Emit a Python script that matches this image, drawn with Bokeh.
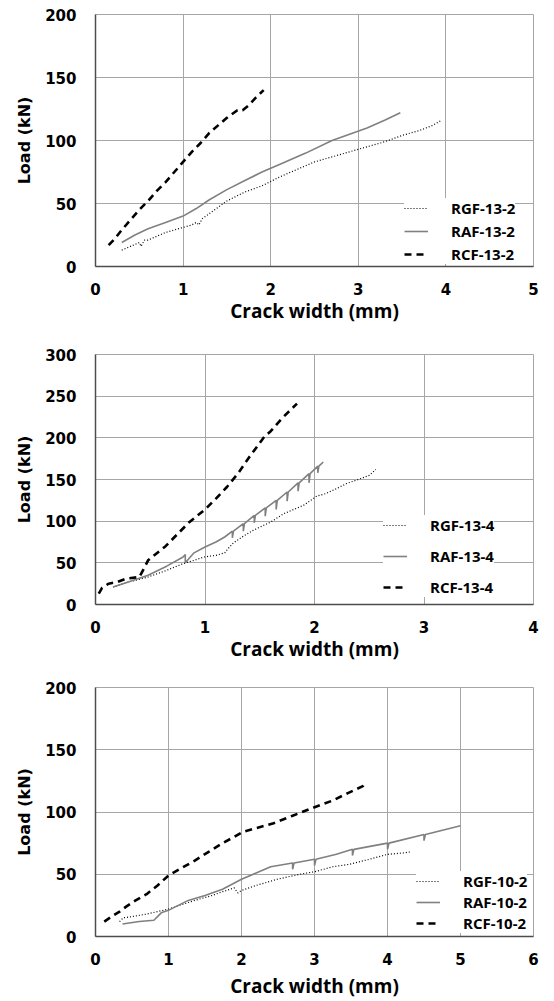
from bokeh.plotting import figure
from bokeh.layouts import column
from bokeh.models import Legend, LegendItem, Range1d, FixedTicker
from bokeh.embed import file_html
from bokeh.resources import INLINE

# ---------------- data ----------------
# Chart 1 (13-2)
c1_xticks = [0, 1, 2, 3, 4, 5]
c1_yticks = [0, 50, 100, 150, 200]
c1_labels = ["RGF-13-2", "RAF-13-2", "RCF-13-2"]
rgf132_x = [0.30, 0.40, 0.50, 0.52, 0.56, 0.60, 0.70, 0.80, 0.90, 1.00, 1.10, 1.15, 1.18, 1.22, 1.30, 1.40,
            1.50, 1.70, 1.90, 2.10, 2.30, 2.50, 2.70, 2.90, 3.10, 3.30, 3.50, 3.70, 3.85, 3.95]
rgf132_y = [13, 16, 19, 16, 21, 21, 24, 27, 29, 31, 33, 35, 33, 38, 42, 47,
            52, 59, 64, 71, 77, 83, 87, 91, 95, 99, 104, 108, 112, 116]
raf132_x = [0.30, 0.45, 0.60, 0.80, 1.00, 1.15, 1.30, 1.50, 1.70, 1.90, 2.10, 2.40, 2.70, 2.90, 3.10, 3.30, 3.48]
raf132_y = [19, 25, 30, 35, 40, 46, 53, 61, 68, 75, 81, 90, 100, 105, 110, 116, 122]
rcf132_x = [0.15, 0.22, 0.30, 0.40, 0.50, 0.60, 0.70, 0.80, 0.90, 1.00, 1.10, 1.20, 1.30, 1.40, 1.50,
            1.58, 1.62, 1.68, 1.75, 1.83, 1.92]
rcf132_y = [17, 22, 29, 37, 45, 52, 60, 67, 75, 83, 91, 98, 106, 112, 118, 122, 124, 124, 128, 134, 140]

# Chart 2 (13-4)
c2_xticks = [0, 1, 2, 3, 4]
c2_yticks = [0, 50, 100, 150, 200, 250, 300]
c2_labels = ["RGF-13-4", "RAF-13-4", "RCF-13-4"]
rgf134_x = [0.16, 0.30, 0.48, 0.65, 0.80, 0.90, 0.99, 1.10, 1.18, 1.21, 1.26, 1.35, 1.44, 1.60, 1.72,
            1.90, 2.02, 2.10, 2.20, 2.29, 2.40, 2.50, 2.56]
rgf134_y = [21, 27, 33, 41, 49, 53, 57, 59, 62, 67, 74, 82, 89, 99, 109, 119, 130, 133, 139, 145, 150, 155, 162]
raf134_x = [0.16, 0.30, 0.48, 0.65, 0.80, 0.82, 0.82, 0.90, 1.00, 1.10, 1.18, 1.25, 1.25, 1.26, 1.35, 1.35,
            1.36, 1.45, 1.45, 1.46, 1.55, 1.55, 1.56, 1.65, 1.65, 1.66, 1.75, 1.75, 1.76, 1.85, 1.85, 1.86,
            1.95, 1.95, 1.96, 2.03, 2.03, 2.04, 2.08]
raf134_y = [21, 27, 35, 46, 57, 60, 50, 62, 69, 75, 81, 88, 80, 88, 97, 88, 97, 107, 98, 107, 116, 106, 116,
            125, 114, 125, 135, 124, 135, 146, 136, 146, 157, 146, 157, 166, 158, 166, 171]
rcf134_x = [0.03, 0.06, 0.12, 0.20, 0.28, 0.40, 0.45, 0.48, 0.64, 0.85, 1.00, 1.10, 1.20, 1.30,
            1.40, 1.54, 1.60, 1.70, 1.84]
rcf134_y = [13, 20, 25, 27, 31, 33, 45, 53, 70, 98, 114, 127, 141, 157, 176, 201, 208, 223, 241]

# Chart 3 (10-2)
c3_xticks = [0, 1, 2, 3, 4, 5, 6]
c3_yticks = [0, 50, 100, 150, 200]
c3_labels = ["RGF-10-2", "RAF-10-2", "RCF-10-2"]
rgf102_x = [0.33, 0.38, 0.50, 0.70, 1.00, 1.20, 1.36, 1.60, 1.74, 1.90, 1.95, 2.00, 2.20, 2.49, 2.80, 3.00,
            3.25, 3.48, 3.75, 4.00, 4.20, 4.32]
rgf102_y = [12, 15, 16, 18, 22, 26, 29, 33, 36, 39, 35, 37, 41, 46, 50, 52, 56, 58, 62, 66, 67, 68]
raf102_x = [0.37, 0.60, 0.80, 0.85, 0.90, 1.00, 1.10, 1.27, 1.50, 1.74, 2.00, 2.20, 2.40, 2.70, 2.70, 2.72,
            3.00, 3.00, 3.02, 3.30, 3.52, 3.52, 3.54, 4.00, 4.00, 4.02, 4.50, 4.50, 4.52, 5.00]
raf102_y = [10, 12, 13, 16, 19, 21, 24, 29, 33, 38, 46, 51, 56, 59, 54, 59, 62, 57, 62, 66, 70, 65, 70,
            75, 70, 75, 82, 77, 82, 89]
rcf102_x = [0.12, 0.22, 0.33, 0.42, 0.55, 0.70, 0.85, 1.00, 1.15, 1.36, 1.55, 1.74, 1.90, 2.02, 2.20, 2.44,
            2.70, 2.96, 3.24, 3.45, 3.67, 3.72]
rcf102_y = [12, 16, 20, 24, 29, 34, 41, 49, 54, 61, 68, 75, 80, 84, 87, 91, 97, 103, 109, 115, 121, 124]

TICK_FONT = "DejaVu Sans"
TEXT_FONT = "Open Sans"


def make_chart(xmax, ymax, xticks, yticks, series, labels, height, frame_h, b_top, b_left, b_right,
               leg_loc, leg_spacing, title_standoff):
    p = figure(width=554, height=height, x_range=Range1d(0, xmax), y_range=Range1d(0, ymax),
               output_backend="svg", toolbar_location=None,
               min_border_top=b_top, min_border_left=b_left, min_border_right=b_right,
               min_border_bottom=height - b_top - frame_h)
    p.background_fill_color = "white"
    p.border_fill_color = "white"
    p.outline_line_color = "#a6a6a6"
    p.outline_line_width = 1

    p.xaxis.ticker = FixedTicker(ticks=xticks)
    p.yaxis.ticker = FixedTicker(ticks=yticks)
    for ax in (p.xaxis, p.yaxis):
        ax.axis_line_color = "#4d4d4d"
        ax.axis_line_width = 1.5
        ax.major_tick_line_color = None
        ax.minor_tick_line_color = None
        ax.major_tick_out = 0
        ax.major_tick_in = 0
        ax.minor_tick_out = 0
        ax.minor_tick_in = 0
        ax.major_label_text_font = TICK_FONT
        ax.major_label_text_font_style = "bold"
        ax.major_label_text_font_size = "15px"
        ax.major_label_text_color = "black"
        ax.axis_label_text_font_style = "bold"
        ax.axis_label_text_color = "black"
    p.xaxis.major_label_standoff = 16
    p.yaxis.major_label_standoff = 19
    p.xaxis.axis_label = "Crack width (mm)"
    p.yaxis.axis_label = "Load (kN)"
    p.xaxis.axis_label_text_font = TEXT_FONT
    p.yaxis.axis_label_text_font = TICK_FONT
    p.xaxis.axis_label_text_font_size = "19px"
    p.yaxis.axis_label_text_font_size = "16px"
    p.xaxis.axis_label_standoff = title_standoff
    p.yaxis.axis_label_standoff = 8

    p.xgrid.grid_line_color = "#a6a6a6"
    p.ygrid.grid_line_color = "#a6a6a6"
    p.xgrid.grid_line_width = 1
    p.ygrid.grid_line_width = 1

    (gx, gy), (ax_, ay), (cx, cy) = series
    r_g = p.line(gx, gy, line_color="black", line_width=1.2, line_dash="1 2")
    r_a = p.line(ax_, ay, line_color="#808080", line_width=1.6)
    r_c = p.line(cx, cy, line_color="black", line_width=2.6, line_dash="7 5")

    legend = Legend(items=[LegendItem(label=labels[0], renderers=[r_g]),
                           LegendItem(label=labels[1], renderers=[r_a]),
                           LegendItem(label=labels[2], renderers=[r_c])],
                    location=leg_loc)
    legend.border_line_color = None
    legend.background_fill_color = "white"
    legend.background_fill_alpha = 1
    legend.label_text_font = TEXT_FONT
    legend.label_text_font_style = "bold"
    legend.label_text_font_size = "15px"
    legend.label_text_color = "black"
    legend.glyph_width = 24
    legend.glyph_height = 20
    legend.label_height = 20
    legend.label_standoff = 23
    legend.spacing = leg_spacing
    legend.padding = 5
    legend.margin = 0
    p.add_layout(legend, "center")
    return p


p1 = make_chart(5, 200, c1_xticks, c1_yticks,
                [(rgf132_x, rgf132_y), (raf132_x, raf132_y), (rcf132_x, rcf132_y)], c1_labels,
                height=330, frame_h=252, b_top=14, b_left=88, b_right=18,
                leg_loc=(309, 2), leg_spacing=3, title_standoff=0)
p2 = make_chart(4, 300, c2_xticks, c2_yticks,
                [(rgf134_x, rgf134_y), (raf134_x, raf134_y), (rcf134_x, rcf134_y)], c2_labels,
                height=338, frame_h=250, b_top=24, b_left=88, b_right=21,
                leg_loc=(288, 7), leg_spacing=11, title_standoff=0)
p3 = make_chart(6, 200, c3_xticks, c3_yticks,
                [(rgf102_x, rgf102_y), (raf102_x, raf102_y), (rcf102_x, rcf102_y)], c3_labels,
                height=333, frame_h=253, b_top=19, b_left=95, b_right=7,
                leg_loc=(321, 3), leg_spacing=1, title_standoff=5)

layout = column(p1, p2, p3, spacing=0)
open("out.html", "w").write(file_html(layout, INLINE))
